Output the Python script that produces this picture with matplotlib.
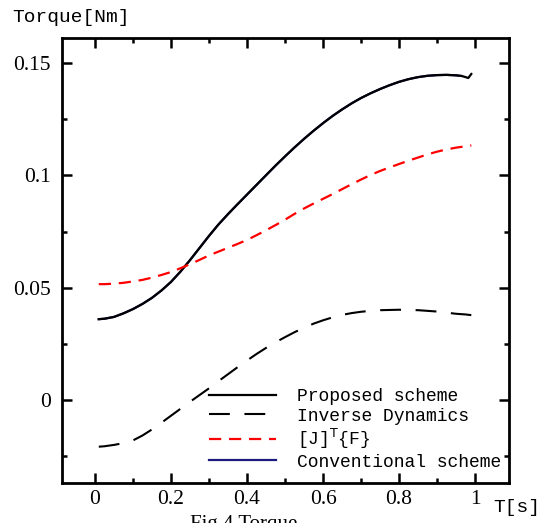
import numpy as np
import matplotlib
matplotlib.use('Agg')
import matplotlib.pyplot as plt
from matplotlib.ticker import MultipleLocator

# -----------------------------
# Data
# -----------------------------
t_prop = [0.01, 0.025, 0.05, 0.075, 0.1, 0.125, 0.15, 0.175, 0.2, 0.225,
          0.25, 0.275, 0.3, 0.325, 0.35, 0.375, 0.4, 0.425, 0.45, 0.475,
          0.5, 0.525, 0.55, 0.575, 0.6, 0.625, 0.65, 0.675, 0.7, 0.725,
          0.75, 0.775, 0.8, 0.825, 0.85, 0.875, 0.9, 0.925, 0.95, 0.965,
          0.975, 0.982, 0.99]
torque_prop = [0.0360, 0.0362, 0.0370, 0.0386, 0.0405, 0.0428, 0.0455, 0.0488,
               0.0526, 0.0572, 0.0623, 0.0677, 0.0731, 0.0782, 0.0828, 0.0872,
               0.0915, 0.0958, 0.1001, 0.1044, 0.1085, 0.1125, 0.1163, 0.1199,
               0.1233, 0.1265, 0.1294, 0.1321, 0.1345, 0.1366, 0.1385, 0.1402,
               0.1417, 0.1429, 0.1438, 0.1444, 0.1447, 0.1448, 0.1446, 0.1443,
               0.1438, 0.1434, 0.1452]

t_conv = [0.01, 0.025, 0.05, 0.075, 0.1, 0.125, 0.15, 0.175, 0.2, 0.225,
          0.25, 0.275, 0.3, 0.325, 0.35, 0.375, 0.4, 0.425, 0.45, 0.475,
          0.5, 0.525, 0.55, 0.575, 0.6, 0.625, 0.65, 0.675, 0.7, 0.725,
          0.75, 0.775, 0.8, 0.825, 0.85, 0.875, 0.9, 0.925, 0.95, 0.965]
torque_conv = [0.0360, 0.0362, 0.0370, 0.0386, 0.0405, 0.0428, 0.0455, 0.0488,
               0.0526, 0.0572, 0.0623, 0.0677, 0.0731, 0.0782, 0.0828, 0.0872,
               0.0915, 0.0958, 0.1001, 0.1044, 0.1085, 0.1125, 0.1163, 0.1199,
               0.1233, 0.1265, 0.1294, 0.1321, 0.1345, 0.1366, 0.1385, 0.1402,
               0.1417, 0.1429, 0.1438, 0.1444, 0.1447, 0.1448, 0.1446, 0.1443]

t_inv = [0.01, 0.025, 0.05, 0.075, 0.1, 0.125, 0.15, 0.175, 0.2, 0.225,
         0.25, 0.275, 0.3, 0.325, 0.35, 0.375, 0.4, 0.425, 0.45, 0.475,
         0.5, 0.525, 0.55, 0.575, 0.6, 0.625, 0.65, 0.675, 0.7, 0.725,
         0.75, 0.775, 0.8, 0.825, 0.85, 0.875, 0.9, 0.925, 0.95, 0.975, 0.99]
torque_inv = [-0.0208, -0.0206, -0.0200, -0.0192, -0.0180, -0.0158, -0.0131,
              -0.0101, -0.0070, -0.0039, -0.0008, 0.0022, 0.0052, 0.0084,
              0.0115, 0.0146, 0.0176, 0.0205, 0.0232, 0.0257, 0.0280, 0.0302,
              0.0322, 0.0340, 0.0355, 0.0368, 0.0379, 0.0387, 0.0393, 0.0397,
              0.0400, 0.0401, 0.0402, 0.0401, 0.0400, 0.0397, 0.0394, 0.0389,
              0.0384, 0.0381, 0.0378]

t_jf = [0.01, 0.025, 0.05, 0.075, 0.1, 0.125, 0.15, 0.175, 0.2, 0.225,
        0.25, 0.275, 0.3, 0.325, 0.35, 0.375, 0.4, 0.425, 0.45, 0.475,
        0.5, 0.525, 0.55, 0.575, 0.6, 0.625, 0.65, 0.675, 0.7, 0.725,
        0.75, 0.775, 0.8, 0.825, 0.85, 0.875, 0.9, 0.925, 0.95, 0.975, 0.99]
torque_jf = [0.0516, 0.0516, 0.0518, 0.0522, 0.0528, 0.0535, 0.0545, 0.0557,
             0.0570, 0.0587, 0.0605, 0.0624, 0.0644, 0.0661, 0.0678, 0.0695,
             0.0713, 0.0734, 0.0756, 0.0779, 0.0803, 0.0829, 0.0853, 0.0875,
             0.0896, 0.0917, 0.0939, 0.0961, 0.0982, 0.1002, 0.1020, 0.1036,
             0.1051, 0.1066, 0.1080, 0.1094, 0.1106, 0.1116, 0.1124, 0.1130,
             0.1134]

# -----------------------------
# Plot
# -----------------------------
fig = plt.figure(figsize=(5.42, 5.23), dpi=100)
ax = fig.add_axes([0.1138, 0.0759, 0.8259, 0.8509])

ax.plot(t_conv, torque_conv, color="#1c1c80", linewidth=1.6,
        label="Conventional scheme")
ax.plot(t_prop, torque_prop, color="black", linewidth=1.6,
        label="Proposed scheme")
ax.plot(t_inv, torque_inv, color="black", linewidth=1.5,
        dashes=(10, 7), label="Inverse Dynamics")
ax.plot(t_jf, torque_jf, color="red", linewidth=1.6,
        dashes=(5.5, 3.5), label=r"[J]$^\mathrm{T}${F}")

ax.set_xlim(-0.0876, 1.090)
ax.set_ylim(-0.0371, 0.1611)

ax.xaxis.set_minor_locator(MultipleLocator(0.1))
ax.yaxis.set_minor_locator(MultipleLocator(0.025))
ax.set_xticks([0, 0.2, 0.4, 0.6, 0.8, 1.0])
ax.set_xticklabels(["0", "0.2", "0.4", "0.6", "0.8", "1"])
ax.set_yticks([0, 0.05, 0.1, 0.15])
ax.set_yticklabels(["0", "0.05", "0.1", "0.15"])

ax.tick_params(which="both", direction="in", top=True, right=True, width=1.8)
ax.tick_params(which="major", length=7.5)
ax.tick_params(which="minor", length=3.5)
ax.tick_params(axis="x", pad=4.5)
ax.tick_params(axis="y", pad=8)
for lab in ax.get_xticklabels() + ax.get_yticklabels():
    lab.set_fontfamily("Liberation Serif")
    lab.set_fontsize(15.5)
for sp in ax.spines.values():
    sp.set_linewidth(2)

handles, labels = ax.get_legend_handles_labels()
order = [1, 2, 3, 0]
ax.legend([handles[i] for i in order], [labels[i] for i in order],
          loc="upper left", bbox_to_anchor=(0.329, 0.214),
          frameon=False, borderpad=0, borderaxespad=0,
          handlelength=3.7, handletextpad=1.15, labelspacing=0.14,
          prop={"family": "Liberation Mono", "size": 13})

fig.text(12 / 542, 1 - 18 / 523, "Torque[Nm]", family="Liberation Mono",
         fontsize=14, va="center", ha="left")
fig.text(493 / 542, 1 - 508 / 523, "T[s]", family="Liberation Mono",
         fontsize=14, va="center", ha="left")
fig.text(190 / 542, 1 - 515 / 523, "Fig.4 Torque", family="Liberation Serif",
         fontsize=15, va="top", ha="left")

fig.savefig("out.png", dpi=100)
